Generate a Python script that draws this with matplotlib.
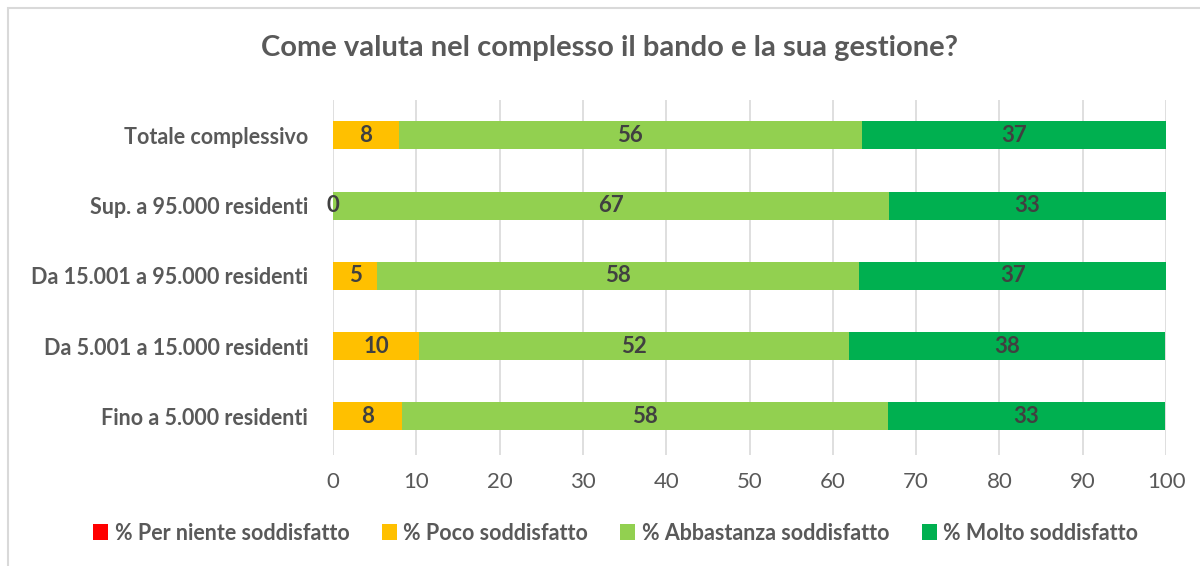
import matplotlib.pyplot as plt
from matplotlib.patches import Rectangle

plt.rcParams['font.family'] = ['Lato', 'DejaVu Sans']

categories = ['Fino a 5.000 residenti', 'Da 5.001 a 15.000 residenti',
              'Da 15.001 a 95.000 residenti', 'Sup. a 95.000 residenti',
              'Totale complessivo']
series_names = ['% Per niente soddisfatto', '% Poco soddisfatto',
                '% Abbastanza soddisfatto', '% Molto soddisfatto']
per_niente = [0, 0, 0, 0, 0]
poco = [8.3, 10.3, 5.3, 0, 7.9]
abbastanza = [58.3, 51.7, 57.9, 66.7, 55.6]
molto = [33.3, 37.9, 36.8, 33.3, 36.6]
colors = ['#ff0000', '#ffc000', '#92d050', '#00b050']

fig = plt.figure(figsize=(12, 5.66), dpi=100)
ax = fig.add_axes([0.2775, 0.196, 0.9717 - 0.2775, 0.627])

# chart frame
fig.patches.append(Rectangle((8 / 1200, -0.1), 1.2, 1 - 8 / 566 + 0.1,
                             transform=fig.transFigure, fill=False,
                             edgecolor='#d9d9d9', linewidth=1.5))

y = list(range(len(categories)))
left = [0] * len(categories)
for name, vals, col in zip(series_names, [per_niente, poco, abbastanza, molto], colors):
    bars = ax.barh(y, vals, left=left, height=0.4, color=col, label=name, zorder=3)
    for i, v in enumerate(vals):
        if name == series_names[0]:
            continue
        if name == series_names[1] and v == 0:
            ax.text(left[i], i, '0', ha='center', va='center', fontsize=16,
                    fontweight='bold', color='#404040', zorder=4)
            continue
        ax.text(left[i] + v / 2, i, f'{round(v):d}', ha='center', va='center',
                fontsize=16, fontweight='bold', color='#404040', zorder=4)
    left = [l + v for l, v in zip(left, vals)]

ax.set_xlim(0, 100)
ax.set_ylim(-0.55, 4.5)
ax.set_xticks(range(0, 101, 10))
ax.set_yticks(y)
ax.set_yticklabels(categories, fontsize=15.5, fontweight='bold', color='#595959')
ax.tick_params(axis='x', labelsize=16, labelcolor='#595959', length=0, pad=12)
ax.tick_params(axis='y', length=0, pad=18)
ax.grid(axis='x', color='#d9d9d9', linewidth=1.2, zorder=0)
for s in ax.spines.values():
    s.set_visible(False)

fig.text(0.508, 1 - 48 / 566, 'Come valuta nel complesso il bando e la sua gestione?',
         ha='center', va='center', fontsize=21, fontweight='bold', color='#595959')

fig.legend(loc='center', bbox_to_anchor=(0.513, 1 - 533 / 566), ncol=4,
           frameon=False, handlelength=0.7, handleheight=0.7, handletextpad=0.3,
           columnspacing=1.5, prop={'size': 15.5, 'weight': 'bold'},
           labelcolor='#595959')

fig.savefig('out.png', dpi=100)
